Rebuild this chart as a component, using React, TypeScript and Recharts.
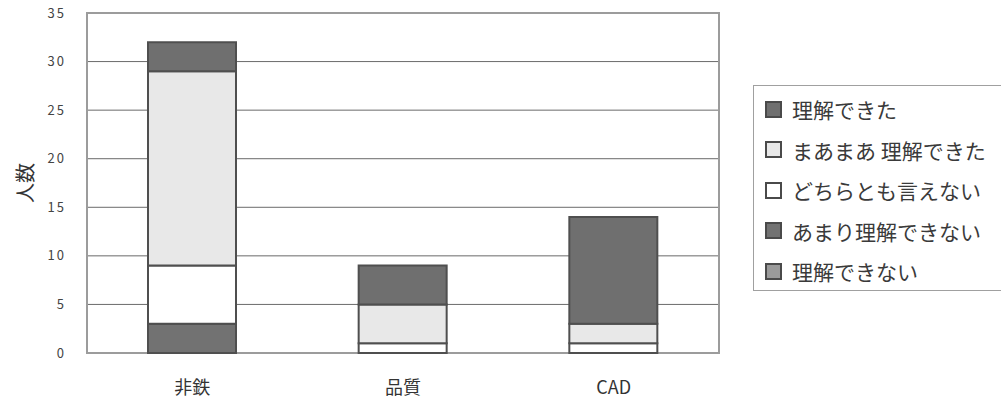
import {
  BarChart,
  Bar,
  XAxis,
  YAxis,
  CartesianGrid,
  ReferenceArea,
} from "recharts"

const CATEGORIES = ["非鉄", "品質", "CAD"]

// counts per answer, one entry per category
const UNDERSTOOD = [3, 4, 11]
const MOSTLY_UNDERSTOOD = [20, 4, 2]
const NEUTRAL = [6, 1, 1]
const BARELY_UNDERSTOOD = [3, 0, 0]
const NOT_UNDERSTOOD = [0, 0, 0]

const Y_TICKS = [0, 5, 10, 15, 20, 25, 30, 35]
// small marks between the categories
const SEPARATOR_TICKS = [1, 2]

// stack order, bottom to top
const SERIES = [
  { key: "notUnderstood", name: "理解できない", values: NOT_UNDERSTOOD, fill: "#9a9a9a" },
  { key: "barely", name: "あまり理解できない", values: BARELY_UNDERSTOOD, fill: "#727272" },
  { key: "neutral", name: "どちらとも言えない", values: NEUTRAL, fill: "#ffffff" },
  { key: "mostly", name: "まあまあ 理解できた", values: MOSTLY_UNDERSTOOD, fill: "#e8e8e8" },
  { key: "understood", name: "理解できた", values: UNDERSTOOD, fill: "#6f6f6f" },
]

const data = CATEGORIES.map((name, i) => {
  const row: Record<string, string | number> = { name }
  SERIES.forEach((s) => {
    row[s.key] = s.values[i]
  })
  return row
})

const FONT = "'Noto Sans CJK JP', 'Noto Sans', sans-serif"

function ChartLegend() {
  const items = [...SERIES].reverse()
  return (
    <div
      style={{
        position: "absolute",
        left: 753,
        top: 85,
        width: 270,
        height: 206,
        border: "1px solid #a0a0a0",
        boxSizing: "border-box",
        paddingTop: 3,
        fontFamily: FONT,
      }}
    >
      {items.map((s) => (
        <div
          key={s.key}
          style={{
            display: "flex",
            alignItems: "center",
            height: 40.5,
            paddingLeft: 11,
            fontSize: 21,
            color: "#3a3a3a",
            whiteSpace: "nowrap",
          }}
        >
          <span
            style={{
              display: "inline-block",
              width: 13,
              height: 13,
              background: s.fill,
              border: "2px solid #4a4a4a",
              marginRight: 10,
            }}
          />
          {s.name}
        </div>
      ))}
    </div>
  )
}

export default function App() {
  return (
    <div
      style={{
        position: "absolute",
        left: 0,
        top: 0,
        width: 1001,
        height: 414,
        background: "#fff",
        overflow: "hidden",
      }}
    >
      <BarChart
        width={1001}
        height={414}
        data={data}
        margin={{ top: 13, right: 282, bottom: 21, left: 0 }}
        barSize={88}
        style={{ fontFamily: FONT }}
      >
        <CartesianGrid horizontal vertical={false} stroke="#6a6a6a" strokeWidth={1} />
        <XAxis
          xAxisId="sep"
          type="number"
          domain={[0, 3]}
          ticks={SEPARATOR_TICKS}
          height={0}
          mirror
          axisLine={false}
          tick={false}
          tickSize={6}
          tickLine={{ stroke: "#8a8a8a", strokeWidth: 1 }}
        />
        <XAxis
          dataKey="name"
          height={40}
          axisLine={false}
          tickLine={false}
          tickMargin={22}
          tick={{ fontSize: 18, fill: "#333" }}
        />
        <YAxis
          width={87}
          domain={[0, 35]}
          ticks={Y_TICKS}
          interval={0}
          axisLine={false}
          tickLine={false}
          tickMargin={15}
          tick={{ fontSize: 13, fill: "#444", letterSpacing: 2 }}
          label={{
            value: "人数",
            angle: -90,
            position: "insideLeft",
            offset: 26,
            style: { fontSize: 20, fill: "#333", textAnchor: "middle" },
          }}
        />
        {SERIES.map((s) => (
          <Bar
            key={s.key}
            dataKey={s.key}
            name={s.name}
            stackId="a"
            fill={s.fill}
            stroke="#4f4f4f"
            strokeWidth={2}
            isAnimationActive={false}
          />
        ))}
        <ReferenceArea
          y1={0}
          y2={35}
          fill="none"
          stroke="#9c9c9c"
          strokeWidth={2}
        />
      </BarChart>
      <ChartLegend />
    </div>
  )
}
